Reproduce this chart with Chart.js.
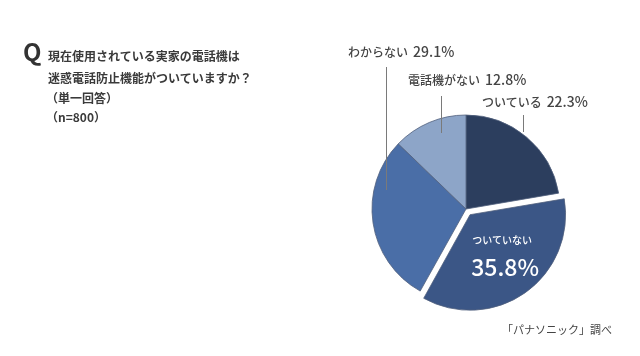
<!DOCTYPE html>
<html><head><meta charset="utf-8">
<script src="https://cdn.jsdelivr.net/npm/chart.js@4"></script>
<style>
html,body{margin:0;padding:0;background:#fff;}
#wrap{position:relative;width:640px;height:356px;overflow:hidden;font-family:"Noto Sans CJK JP","Noto Sans",sans-serif;color:#3a3a3a;}
canvas{position:absolute;left:0;top:0;}
.t{position:absolute;white-space:nowrap;line-height:1;}
.q{font-size:24px;font-weight:700;left:23px;top:39px;color:#333;}
.title{font-size:12px;font-weight:700;left:48px;color:#3a3a3a;}
.lab{font-size:12px;font-weight:500;color:#444;}
.lab b{font-size:14px;font-weight:500;margin-left:5px;}
.inside1{font-size:10px;color:#fff;font-weight:500;transform:translate(-50%,-50%);}
.inside2{font-size:23px;color:#fff;font-weight:500;transform:translate(-50%,-50%);}
.src{font-size:11px;left:502px;top:324px;color:#444;}
</style></head>
<body><div id="wrap">
<canvas id="c" width="640" height="356"></canvas>
<div class="t q">Q</div>
<div class="t title" style="top:50px">現在使用されている実家の電話機は</div>
<div class="t title" style="top:72px">迷惑電話防止機能がついていますか？</div>
<div class="t title" style="top:92px;left:46px">（単一回答）</div>
<div class="t title" style="top:111px;left:46px">（n=800）</div>
<div class="t src">「パナソニック」調べ</div>
<div id="labels"></div>
</div>
<script>
const categories = ["ついている", "ついていない", "わからない", "電話機がない"];
const values = [22.3, 35.8, 29.1, 12.8];
const colors = ["#2c3e5e", "#3b5686", "#4a6ea7", "#8da5c8"];
const offsets = [0, 28, 0, 0];

// outside label positions and leader lines
const outside = {
  0: {left: 482, top: 94, lx: 57, y1: 115, y2: 132},
  2: {left: 348, top: 44, lx: -80, y1: 67, y2: 190},
  3: {left: 408, top: 72, lx: -25, y1: 96, y2: 133}
};

const labelsDiv = document.getElementById('labels');
Object.keys(outside).forEach(k => {
  const o = outside[k];
  const d = document.createElement('div');
  d.className = 't lab';
  d.style.left = o.left + 'px';
  d.style.top = o.top + 'px';
  d.innerHTML = categories[k] + '<b>' + values[k] + '%</b>';
  labelsDiv.appendChild(d);
});
const in1 = document.createElement('div');
in1.className = 't inside1';
in1.textContent = categories[1];
labelsDiv.appendChild(in1);
const in2 = document.createElement('div');
in2.className = 't inside2';
in2.textContent = values[1] + '%';
labelsDiv.appendChild(in2);

const leaderPlugin = {
  id: 'leaders',
  afterDatasetsDraw(chart) {
    const ctx = chart.ctx;
    const arc = chart.getDatasetMeta(0).data[0];
    const cx = arc.x;
    ctx.save();
    ctx.strokeStyle = '#7a7a7a';
    ctx.lineWidth = 1;
    Object.keys(outside).forEach(k => {
      const o = outside[k];
      const x = Math.round(cx + o.lx) + 0.5;
      ctx.beginPath();
      ctx.moveTo(x, o.y1);
      ctx.lineTo(x, o.y2);
      ctx.stroke();
    });
    ctx.restore();
    const a = chart.getDatasetMeta(0).data[1];
    const mid = (a.startAngle + a.endAngle) / 2;
    const r = a.outerRadius / 2;
    const px = a.x + Math.cos(mid) * r;
    const py = a.y + Math.sin(mid) * r;
    in1.style.left = (px + 9) + 'px';
    in1.style.top = (py - 7) + 'px';
    in2.style.left = (px + 12) + 'px';
    in2.style.top = (py + 19) + 'px';
  }
};

new Chart(document.getElementById('c'), {
  type: 'pie',
  data: {
    labels: categories,
    datasets: [{
      data: values,
      backgroundColor: colors,
      borderColor: '#50607c',
      borderWidth: 0.8,
      offset: offsets
    }]
  },
  options: {
    responsive: false,
    animation: false,
    radius: 94,
    layout: {padding: {left: 312, right: 20, top: 80, bottom: 18}},
    plugins: {legend: {display: false}, tooltip: {enabled: false}}
  },
  plugins: [leaderPlugin]
});
</script>
</body></html>
